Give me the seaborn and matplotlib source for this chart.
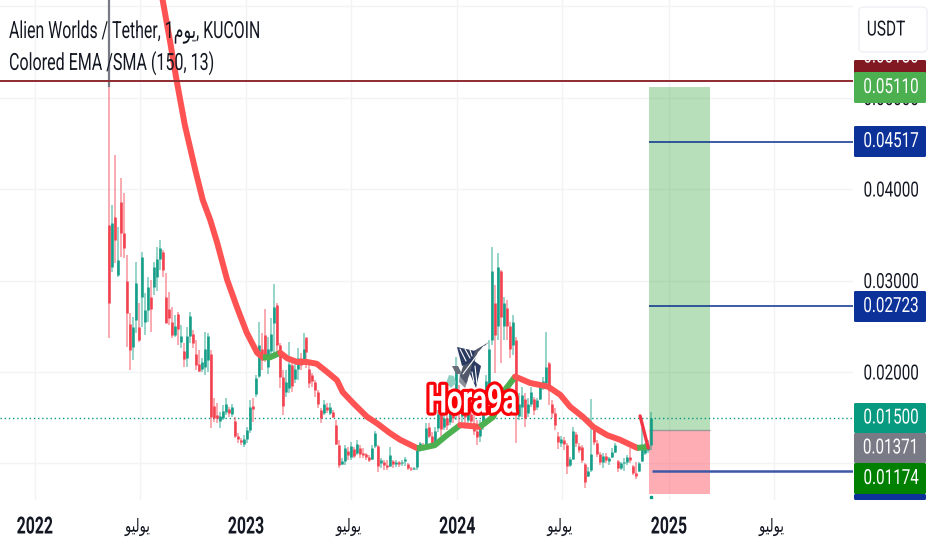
import numpy as np
import pandas as pd
import matplotlib.pyplot as plt
import seaborn as sns
import matplotlib.patheffects as pe
from matplotlib.patches import FancyBboxPatch, Polygon
from matplotlib.transforms import Affine2D

# candles in thousandths of USDT
highs = [70, 38.2, 43.7, 35.8, 41.2, 39.6, 32.8, 26.4, 26.0, 32.0, 27.5, 33.1, 28.6, 30.4, 30.1, 32.0, 33.7, 34.4, 33.3, 30.8,
         28.7, 27.1, 26.2, 26.6, 25.1, 23.2, 24.9, 26.6, 24.6, 23.5, 22.4, 21.5, 24.4, 24.3, 22.4, 17.2, 16.6, 15.6, 16.4, 17.2,
         16.2, 16.5, 15.1, 13.3, 12.8, 13.1, 14.0, 16.9, 17.2, 19.7, 25.5, 24.3, 26.9, 23.8, 25.9, 29.6, 27.5, 23.2, 20.2, 20.2,
         23.3, 21.5, 21.3, 22.6, 22.1, 24.3, 23.5, 20.8, 19.9, 19.1, 18.0, 16.1, 16.9, 16.6, 16.6, 15.9, 14.8, 12.6, 10.6, 12.0,
         11.8, 12.4, 11.8, 12.6, 12.0, 11.7, 11.1, 10.9, 12.0, 13.6, 12.0, 10.6, 10.4, 10.4, 11.8, 10.4, 10.4, 10.3, 10.4, 10.7,
         10.0, 9.6, 9.6, 12.0, 12.4, 12.2, 14.4, 14.4, 13.4, 14.0, 15.9, 16.4, 15.5, 16.9, 18.0, 16.9, 21.6, 18.6, 16.9, 17.5,
         16.4, 15.9, 15.6, 14.8, 14.8, 17.5, 19.7, 23.5, 33.7, 29.5, 33.0, 31.1, 28.2, 27.9, 25.5, 26.2, 23.8, 17.7, 18.4, 17.7,
         17.2, 18.4, 17.3, 17.2, 18.9, 19.5, 24.4, 21.1, 16.9, 16.1, 13.4, 13.0, 12.9, 12.2, 10.7, 14.0, 13.4, 12.2, 12.0, 10.0,
         9.6, 17.0, 14.2, 12.6, 11.3, 11.1, 11.1, 10.7, 11.7, 12.2, 10.4, 10.2, 10.6, 10.9, 11.7, 9.8, 10.2, 10.2, 13.9, 12.2,
         12.6, 15.6]
lows = [23.7, 30.9, 31.9, 30.4, 32.6, 32.5, 22.7, 20.2, 21.3, 24.3, 23.3, 24.9, 24.0, 25.5, 24.4, 28.4, 28.9, 31.1, 30.4, 25.4,
        25.1, 23.7, 23.8, 22.9, 22.6, 20.5, 20.5, 23.2, 22.6, 20.2, 20.0, 20.0, 19.7, 20.0, 13.9, 14.5, 14.4, 13.9, 14.8, 15.3,
        15.1, 15.1, 12.8, 12.2, 12.0, 11.8, 12.2, 13.3, 14.5, 17.3, 19.3, 20.2, 21.1, 19.8, 21.9, 21.9, 22.2, 18.2, 15.3, 17.3,
        17.7, 17.8, 18.8, 19.1, 20.2, 20.8, 20.4, 18.2, 18.4, 17.3, 16.1, 14.4, 15.3, 15.5, 15.3, 15.0, 12.0, 9.5, 9.8, 9.8,
        10.4, 10.4, 10.6, 10.9, 10.6, 10.6, 10.4, 10.2, 10.4, 11.7, 9.1, 9.5, 9.3, 9.3, 9.6, 9.5, 9.6, 9.6, 9.7, 9.7,
        9.3, 9.2, 9.3, 9.3, 11.3, 11.5, 12.0, 12.8, 11.8, 12.2, 13.4, 13.0, 13.7, 13.7, 14.2, 14.4, 14.8, 14.2, 14.2, 14.2,
        14.2, 13.9, 13.1, 12.0, 12.4, 13.7, 15.3, 17.5, 22.9, 19.9, 23.5, 21.0, 23.5, 23.5, 21.5, 21.9, 12.2, 14.8, 15.1, 14.0,
        15.1, 16.2, 15.3, 15.9, 16.9, 18.0, 18.4, 16.4, 15.0, 13.7, 11.6, 11.8, 11.5, 8.9, 9.6, 10.4, 11.8, 11.1, 10.0, 7.3,
        8.5, 9.1, 12.0, 10.7, 9.8, 9.5, 10.0, 9.8, 10.6, 11.1, 9.1, 9.3, 9.2, 9.8, 10.0, 8.7, 8.3, 9.1, 10.2, 10.9,
        11.1, 11.5]
opens = [36.1, 31.5, 36.9, 30.6, 38.6, 35.2, 30.0, 25.3, 22.7, 25.7, 24.9, 28.2, 25.5, 26.8, 28.2, 29.3, 30.4, 32.3, 33.1, 28.2,
         26.9, 25.5, 24.0, 26.3, 23.3, 22.3, 21.5, 23.9, 24.2, 22.0, 20.9, 20.3, 20.6, 21.3, 22.0, 16.3, 15.3, 14.6, 15.0, 15.6,
         16.0, 15.4, 14.6, 13.0, 12.6, 12.1, 12.7, 13.7, 16.3, 17.6, 19.6, 22.5, 24.0, 20.5, 22.3, 25.4, 27.3, 23.0, 19.5, 17.8,
         18.3, 20.8, 19.2, 20.3, 21.5, 21.1, 23.8, 20.3, 19.7, 18.9, 17.8, 15.8, 15.5, 16.2, 15.5, 15.6, 14.2, 12.0, 9.9, 10.3,
         11.4, 10.7, 11.6, 11.1, 11.7, 11.2, 11.0, 10.7, 10.5, 11.9, 11.9, 10.1, 10.2, 9.8, 9.7, 10.3, 9.9, 10.2, 10.0, 10.3,
         9.9, 9.5, 9.4, 9.6, 11.5, 12.0, 12.0, 14.0, 13.0, 12.4, 13.9, 15.4, 14.0, 15.0, 14.5, 16.5, 15.4, 17.0, 15.2, 16.2,
         14.8, 15.4, 14.4, 13.6, 13.0, 14.2, 15.8, 18.5, 23.5, 27.5, 25.0, 31.0, 25.0, 27.0, 25.0, 23.0, 23.5, 15.2, 16.2, 17.0,
         15.5, 16.5, 17.0, 16.2, 17.0, 18.3, 18.8, 21.0, 16.5, 15.5, 13.0, 12.2, 12.6, 12.0, 9.8, 10.5, 13.2, 11.9, 11.8, 9.9,
         8.6, 9.3, 14.0, 12.2, 11.0, 10.2, 10.8, 10.3, 10.7, 11.3, 10.3, 9.5, 10.0, 10.2, 10.7, 9.7, 9.0, 9.2, 10.3, 11.2,
         11.5, 12.0]
closes = [27.5, 36.3, 34.4, 32.2, 35.2, 33.5, 26.4, 22.4, 24.9, 29.7, 23.5, 32.6, 26.8, 29.3, 26.9, 31.5, 32.3, 33.5, 31.1, 25.4,
          25.9, 24.0, 25.0, 24.7, 23.9, 21.4, 23.9, 26.1, 23.2, 20.8, 20.1, 21.1, 22.5, 23.9, 15.1, 15.0, 15.0, 15.2, 15.7, 16.5,
          15.5, 16.2, 13.0, 12.7, 12.3, 12.7, 13.7, 16.2, 16.0, 19.3, 23.0, 21.3, 21.9, 22.5, 24.2, 27.1, 23.0, 19.5, 16.3, 18.9,
          20.9, 18.5, 20.3, 21.5, 20.8, 22.5, 22.2, 18.8, 19.0, 18.0, 16.5, 15.0, 16.5, 15.9, 16.2, 15.1, 12.1, 9.8, 10.3, 11.7,
          10.9, 11.9, 10.8, 12.1, 11.0, 10.9, 10.7, 10.4, 11.7, 13.3, 9.7, 10.4, 9.8, 9.6, 10.9, 9.9, 10.2, 9.9, 10.2, 10.5,
          9.5, 9.4, 9.5, 11.5, 12.2, 11.8, 13.9, 13.0, 12.0, 13.5, 15.4, 13.8, 15.0, 14.2, 17.0, 15.0, 20.0, 15.5, 16.0, 15.1,
          15.6, 14.6, 13.6, 12.9, 14.2, 16.5, 19.0, 22.5, 31.0, 24.0, 31.5, 26.0, 27.5, 25.0, 22.5, 25.5, 15.5, 16.5, 17.5, 15.0,
          16.5, 17.8, 15.8, 16.9, 18.5, 19.0, 20.5, 18.0, 15.5, 14.2, 12.3, 12.7, 12.1, 9.7, 10.5, 13.5, 12.2, 11.5, 10.4, 8.0,
          9.2, 11.0, 12.4, 11.0, 10.2, 10.8, 10.4, 10.6, 11.3, 12.0, 9.5, 10.0, 10.2, 10.7, 10.4, 9.0, 8.6, 10.0, 11.7, 11.8,
          12.0, 15.0]

# moving average, days since 2022-01-01
ema_days = [216, 233, 245, 259, 277, 290, 303, 315, 332, 349, 366, 384, 394, 394, 406, 424, 424, 436, 453, 470, 487, 505, 522,
            532, 550, 574, 591, 614, 631, 660, 660, 669, 691, 712, 735, 735, 769, 769, 792, 812, 830, 830, 856, 887, 908, 925,
            947, 965, 989, 1011, 1041, 1041, 1058, 1046, 1060]
ema_vals = [62.3, 56.3, 51.8, 47.0, 42.1, 38.8, 36.6, 34.1, 30.1, 27.1, 24.3, 22.1, 21.6, 21.6, 21.6, 22.1, 22.1, 21.5, 21.1, 21.1,
            20.9, 20.0, 19.1, 17.8, 16.6, 15.1, 14.4, 13.3, 12.6, 11.7, 11.7, 11.7, 12.0, 13.1, 14.2, 14.2, 14.0, 14.0, 15.1, 18.0,
            19.5, 19.5, 18.8, 18.4, 17.5, 16.2, 15.1, 14.0, 13.1, 12.6, 11.7, 11.7, 11.8, 15.2, 11.7]
ema_part = [0] * 13 + [1] * 3 + [2] * 14 + [3] * 5 + [4] * 2 + [5] * 4 + [6] * 10 + [7] * 2 + [8] * 2
part_colors = {0: '#ff5252', 1: '#4caf50', 2: '#ff5252', 3: '#4caf50', 4: '#ff5252', 5: '#4caf50', 6: '#ff5252', 7: '#4caf50',
               8: '#f23645'}

# price levels
stop_line = 0.0518
last_price = 0.015
entry = 0.01371
target_top = 0.0511
stop_bottom = 0.00667
target_lines = [0.04517, 0.02723]
low_line = 0.00918
y_ticks = [0.01, 0.02, 0.03, 0.04, 0.05, 0.06]
y_labels = ['0.01000', '0.02000', '0.03000', '0.04000', '0.05000', '']
x_ticks = [0, 181, 365, 546, 730, 911, 1096, 1277]
years = ['2022', '2023', '2024', '2025']
years_at = [0, 365, 730, 1096]
july_at = [181, 546, 911, 1277]
july = '\ufeee\ufef4\ufedf\ufeee\ufef3'  # يوليو, shaped by hand, matplotlib has no bidi
pill_vals = ['0.05180', '0.05110', '0.04517', '0.02723', '0.01500', '0.01371', '0.01174', '']
pill_colors = ['#801922', '#4caf50', '#0c3299', '#0c3299', '#089981', '#787b86', '#008000', '#0c3299']
pill_tops = [60, 72, 126, 291, 403, 433, 463, 494]
pill_bottoms = [75, 103, 157, 322, 433, 463, 494, 500]

sns.set_theme(style='white')
plt.rcParams['font.family'] = ['Roboto', 'DejaVu Sans']
ink = '#131722'

fig = plt.figure(figsize=(9.32, 5.5), dpi=100)
ax = fig.add_axes([0, 50 / 550, 853 / 932, 500 / 550])
W, H = 932, 550


def to_fig(x, y):
    return x / W, 1 - y / H


# the screenshot is squeezed sideways, so squeeze the glyphs the same way
class Squeeze(pe.AbstractPathEffect):
    def __init__(self, sx=0.72, center=True, inner=None):
        super().__init__()
        self.sx = sx
        self.center = center
        self.inner = inner

    def draw_path(self, renderer, gc, tpath, affine, rgbFace=None):
        cx = 0
        if self.center:
            ext = tpath.get_extents()
            cx = (ext.x0 + ext.x1) / 2
        squeezed = Affine2D().translate(-cx, 0).scale(self.sx, 1).translate(cx, 0) + affine
        if self.inner is None:
            renderer.draw_path(gc, tpath, squeezed, rgbFace)
        else:
            for eff in self.inner:
                eff.draw_path(renderer, gc, tpath, squeezed, rgbFace)


ax.set_xlim(-60.5, 1414)
ax.set_ylim(0.00601, 0.06066)
ax.set_xticks(x_ticks)
ax.set_yticks(y_ticks)
ax.set_yticklabels(y_labels)
ax.set_xticklabels([])
ax.yaxis.tick_right()
ax.tick_params(axis='y', length=0, pad=27.4, labelsize=15, labelcolor=ink)
ax.tick_params(axis='x', length=0)
for lab in ax.get_yticklabels():
    lab.set_ha('center')
    lab.set_path_effects([Squeeze(0.73)])
ax.grid(True, color='#f2f3f5', lw=1)
ax.set_axisbelow(True)
sns.despine(ax=ax, left=True, bottom=True, right=True, top=True)

# long / short boxes
ax.fill_between([1061, 1167], entry, target_top, color='#4caf50', alpha=0.4, lw=0, zorder=1)
ax.fill_between([1061, 1167], stop_bottom, entry, color='#ff5c6c', alpha=0.5, lw=0, zorder=1)
ax.hlines(entry, 1061, 1167, color='#9a9a9a', lw=1, zorder=1.5)

# candles
df = pd.DataFrame({'high': highs, 'low': lows, 'open': opens, 'close': closes}) / 1000
df['day'] = np.linspace(128, 1064, len(df))
up = df['close'] >= df['open']
for mask, col in [(up, '#089981'), (~up, '#f23645')]:
    part = df[mask]
    ax.vlines(part['day'], part['low'], part['high'], color=col, lw=1.4, alpha=0.42, zorder=2)
    ax.vlines(part['day'], part['open'], part['close'], color=col, lw=1.9, alpha=0.9, zorder=2.2)
ax.vlines(128, target_top, 0.0607, color='#787b86', lw=1.6, zorder=2.3)
ax.plot([1064], [0.0063], marker='s', ms=1.8, color='#089981', zorder=3)

# moving average
ema = pd.DataFrame({'day': ema_days, 'val': np.array(ema_vals) / 1000, 'part': ema_part})
for key, seg in ema.groupby('part'):
    sns.lineplot(data=seg, x='day', y='val', color=part_colors[key], lw=2.4 if key == 8 else 4.3,
                 estimator=None, sort=False, ax=ax, zorder=4, solid_capstyle='butt' if key % 2 else 'round')
ax.set_xlabel('')
ax.set_ylabel('')

# horizontal levels
ax.axhline(stop_line, color='#8e2a30', lw=1.4, zorder=5)
ax.axhline(last_price, color='#089981', lw=1, ls=(0, (1, 2)), zorder=1.8)
ax.hlines(target_lines, 1061, 1414, color='#0c2f8f', lw=1.1, zorder=5)
ax.hlines(low_line, 1067, 1414, color='#3c58a6', lw=1.8, zorder=5)

# watermark
jet_parts = [
    ([(449, 375), (454, 376), (456, 383), (451, 388), (446, 383)], '#8fd0c2'),
    ([(452, 366), (458, 366), (462, 374), (456, 374)], '#666c78'),
    ([(460, 372), (468, 380), (465, 388), (459, 382)], '#8a8f99'),
    ([(489, 342), (478, 352), (472, 368), (466, 384), (460, 376), (463, 366), (472, 352)], '#50586a'),
    ([(457, 347), (475, 351), (472, 362), (462, 366)], '#2b3a60'),
    ([(473, 360), (481, 366), (476, 388), (470, 374)], '#2b3a60'),
]
for pts, col in jet_parts:
    fig.add_artist(Polygon([to_fig(*p) for p in pts], closed=True, color=col, lw=0, zorder=6))
jet_stripes = [((460, 349), (466, 361)), ((465, 349), (470, 358)), ((470, 350), (472, 356)), ((463, 374), (484, 346)),
               ((475, 366), (477, 384)), ((472, 372), (474, 382))]
for a, b in jet_stripes:
    fig.add_artist(plt.Line2D(*zip(to_fig(*a), to_fig(*b)), color='white', lw=0.8, zorder=6.1))
fig.text(*to_fig(472, 402), 'Hora9a', ha='center', va='center', fontsize=28, fontweight='bold', color='white', zorder=7,
         path_effects=[Squeeze(0.70, inner=[pe.Stroke(linewidth=4.5, foreground='#fb0007'), pe.Normal()])])

# titles
fig.text(*to_fig(9, 32), 'Alien Worlds / Tether, 1\ufee1\ufeee\ufef3, KUCOIN', ha='left', va='center', fontsize=17, color=ink,
         zorder=8, path_effects=[Squeeze(0.672, center=False)])
fig.text(*to_fig(9, 63), 'Colored EMA /SMA (150, 13)', ha='left', va='center', fontsize=17, color=ink, zorder=8,
         path_effects=[Squeeze(0.68, center=False)])

# price axis pills
fig.text(*to_fig(891, 57), pill_vals[0], ha='center', va='center', fontsize=15, color='white', zorder=9.5,
         path_effects=[Squeeze(0.73)])
for i, lab in enumerate(pill_vals):
    x0, y0 = to_fig(854, pill_bottoms[i])
    x1, y1 = to_fig(926, pill_tops[i])
    fig.add_artist(FancyBboxPatch((x0, y0), x1 - x0, y1 - y0, boxstyle='round,pad=0,rounding_size=0.002',
                                  fc=pill_colors[i], ec='none', zorder=9 + i * 0.01, transform=fig.transFigure))
    if lab and i > 0:
        fig.text(*to_fig(891, (pill_tops[i] + pill_bottoms[i]) / 2), lab, ha='center', va='center', fontsize=15,
                 color='white', zorder=9.6, path_effects=[Squeeze(0.73)])
x0, y0 = to_fig(859, 52)
x1, y1 = to_fig(927, 7)
fig.add_artist(FancyBboxPatch((x0, y0), x1 - x0, y1 - y0, boxstyle='round,pad=0,rounding_size=0.006',
                              fc='white', ec='#eef0f4', lw=1, zorder=9.7, transform=fig.transFigure))
fig.text(*to_fig(886, 30), 'USDT', ha='center', va='center', fontsize=15, color=ink, zorder=9.8,
         path_effects=[Squeeze(0.74)])

# time axis labels
for d, lab in zip(years_at, years):
    ax.annotate(lab, (d, 0), xycoords=('data', 'axes fraction'), xytext=(0, -27), textcoords='offset pixels',
                ha='center', va='center', fontsize=17, fontweight='bold', color=ink, annotation_clip=False,
                path_effects=[Squeeze(0.67)])
for d in july_at:
    ax.annotate(july, (d, 0), xycoords=('data', 'axes fraction'), xytext=(-2, -27), textcoords='offset pixels',
                ha='center', va='center', fontsize=13, color=ink, family='DejaVu Sans', annotation_clip=False,
                path_effects=[Squeeze(0.72)])

fig.savefig('out.png', dpi=100)
